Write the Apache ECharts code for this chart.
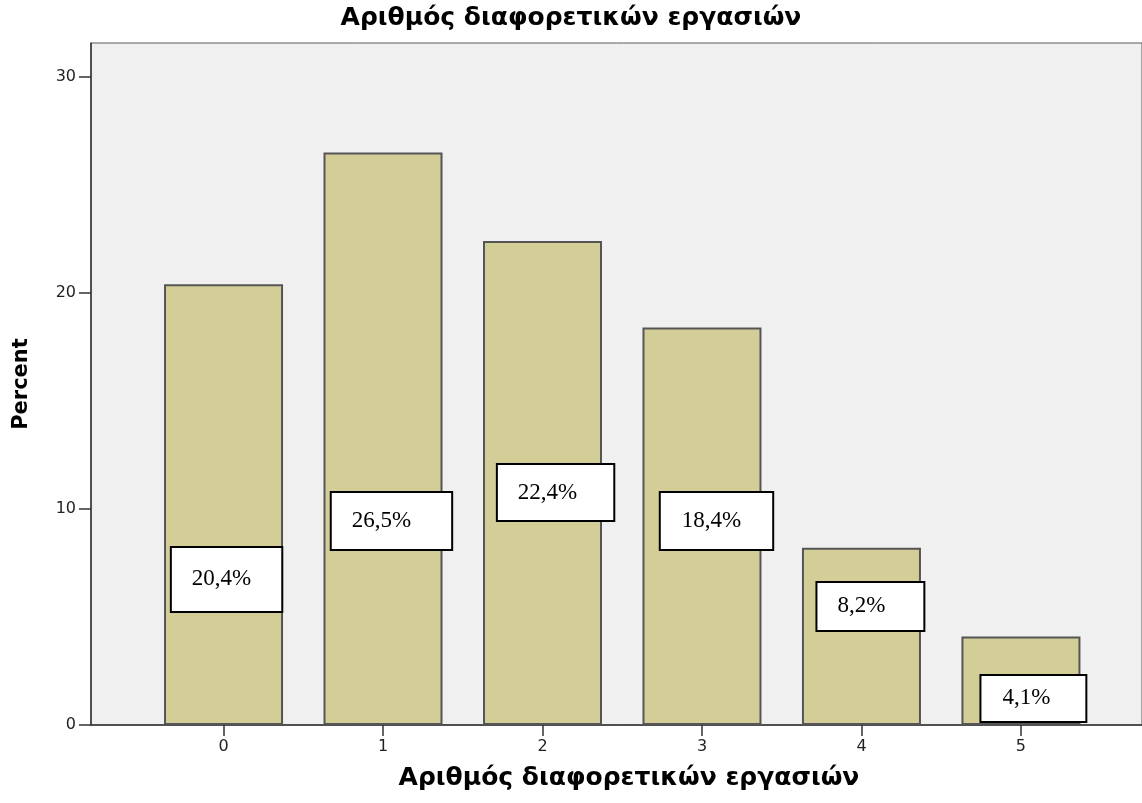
<!DOCTYPE html>
<html>
<head>
<meta charset="utf-8">
<script src="https://cdn.jsdelivr.net/npm/echarts@6/dist/echarts.min.js"></script>
<style>
html,body{margin:0;padding:0;background:#fff;}
#chart{width:1142px;height:803px;}
</style>
</head>
<body>
<div id="chart"></div>
<script>
// ---- data ----
var categories = [0, 1, 2, 3, 4, 5];
var percents = [20.4, 26.5, 22.4, 18.4, 8.2, 4.1];
var yTicks = [0, 10, 20, 30];
var titleText = 'Αριθμός διαφορετικών εργασιών';
var xAxisTitle = 'Αριθμός διαφορετικών εργασιών';
var yAxisTitle = 'Percent';
// hand-placed annotation boxes (anchor in data units: x, y)
var labelAnchorX = [0.019, 1.053, 2.082, 3.091, 4.056, 5.078];
var labelAnchorY = [6.74, 9.44, 10.76, 9.44, 5.49, 1.23];

// ---- styling of annotation boxes (padding: top, right, bottom, left) ----
var labelPadding = [
  [15, 30, 24, 20],
  [16, 40, 16, 20],
  [16, 36, 15, 20],
  [15, 31, 17, 21],
  [14, 38, 9, 20],
  [14, 35, 7, 21]
];

function fmtPct(v) { return v.toFixed(1).replace('.', ',') + '%'; }

var barData = categories.map(function (c, i) { return [c, percents[i]]; });
var labelData = categories.map(function (c, i) {
  return {
    value: [labelAnchorX[i], labelAnchorY[i]],
    label: { padding: labelPadding[i], formatter: fmtPct(percents[i]) }
  };
});

var chart = echarts.init(document.getElementById('chart'), null, { renderer: 'canvas' });
var sans = 'DejaVu Sans, Verdana, sans-serif';
chart.setOption({
  animation: false,
  backgroundColor: '#ffffff',
  title: {
    text: titleText,
    left: 'center',
    top: 1,
    textStyle: { fontFamily: sans, fontWeight: 'bold', fontSize: 25, color: '#000' }
  },
  grid: {
    left: 91, right: 0, top: 43, bottom: 78,
    show: true,
    backgroundColor: '#f0f0f0',
    borderColor: '#5a5a5a',
    borderWidth: 1
  },
  xAxis: {
    type: 'value',
    min: -0.831,
    max: 5.759,
    name: xAxisTitle,
    nameLocation: 'middle',
    nameGap: 41,
    nameTextStyle: { fontFamily: sans, fontWeight: 'bold', fontSize: 25, color: '#000', padding: [0, 0, 0, 25] },
    axisLine: { show: true, onZero: false, lineStyle: { color: '#333', width: 1.5 } },
    axisTick: { show: true, length: 11, customValues: categories, lineStyle: { color: '#333', width: 1.5 } },
    axisLabel: { customValues: categories, fontFamily: sans, fontSize: 16, color: '#222', margin: 14 },
    splitLine: { show: false }
  },
  yAxis: {
    type: 'value',
    min: 0,
    max: 31.57,
    name: yAxisTitle,
    nameLocation: 'middle',
    nameGap: 59,
    nameTextStyle: { fontFamily: sans, fontWeight: 'bold', fontSize: 21, color: '#000' },
    axisLine: { show: true, onZero: false, lineStyle: { color: '#333', width: 1.5 } },
    axisTick: { show: true, length: 12, customValues: yTicks, lineStyle: { color: '#333', width: 1.5 } },
    axisLabel: { customValues: yTicks, fontFamily: sans, fontSize: 16, color: '#222', margin: 15 },
    splitLine: { show: false }
  },
  series: [
    {
      type: 'bar',
      data: barData,
      barWidth: 119,
      itemStyle: { color: '#d3ce98', borderColor: '#555555', borderWidth: 2 },
      silent: true
    },
    {
      type: 'scatter',
      data: labelData,
      symbolSize: 0,
      silent: true,
      z: 5,
      itemStyle: { opacity: 1 },
      label: {
        show: true,
        position: 'inside',
        align: 'center',
        verticalAlign: 'middle',
        fontFamily: 'Liberation Serif, Times New Roman, serif',
        fontSize: 23,
        lineHeight: 24,
        color: '#000',
        opacity: 1,
        backgroundColor: '#ffffff',
        borderColor: '#000000',
        borderWidth: 2
      }
    }
  ]
});
</script>
</body>
</html>
